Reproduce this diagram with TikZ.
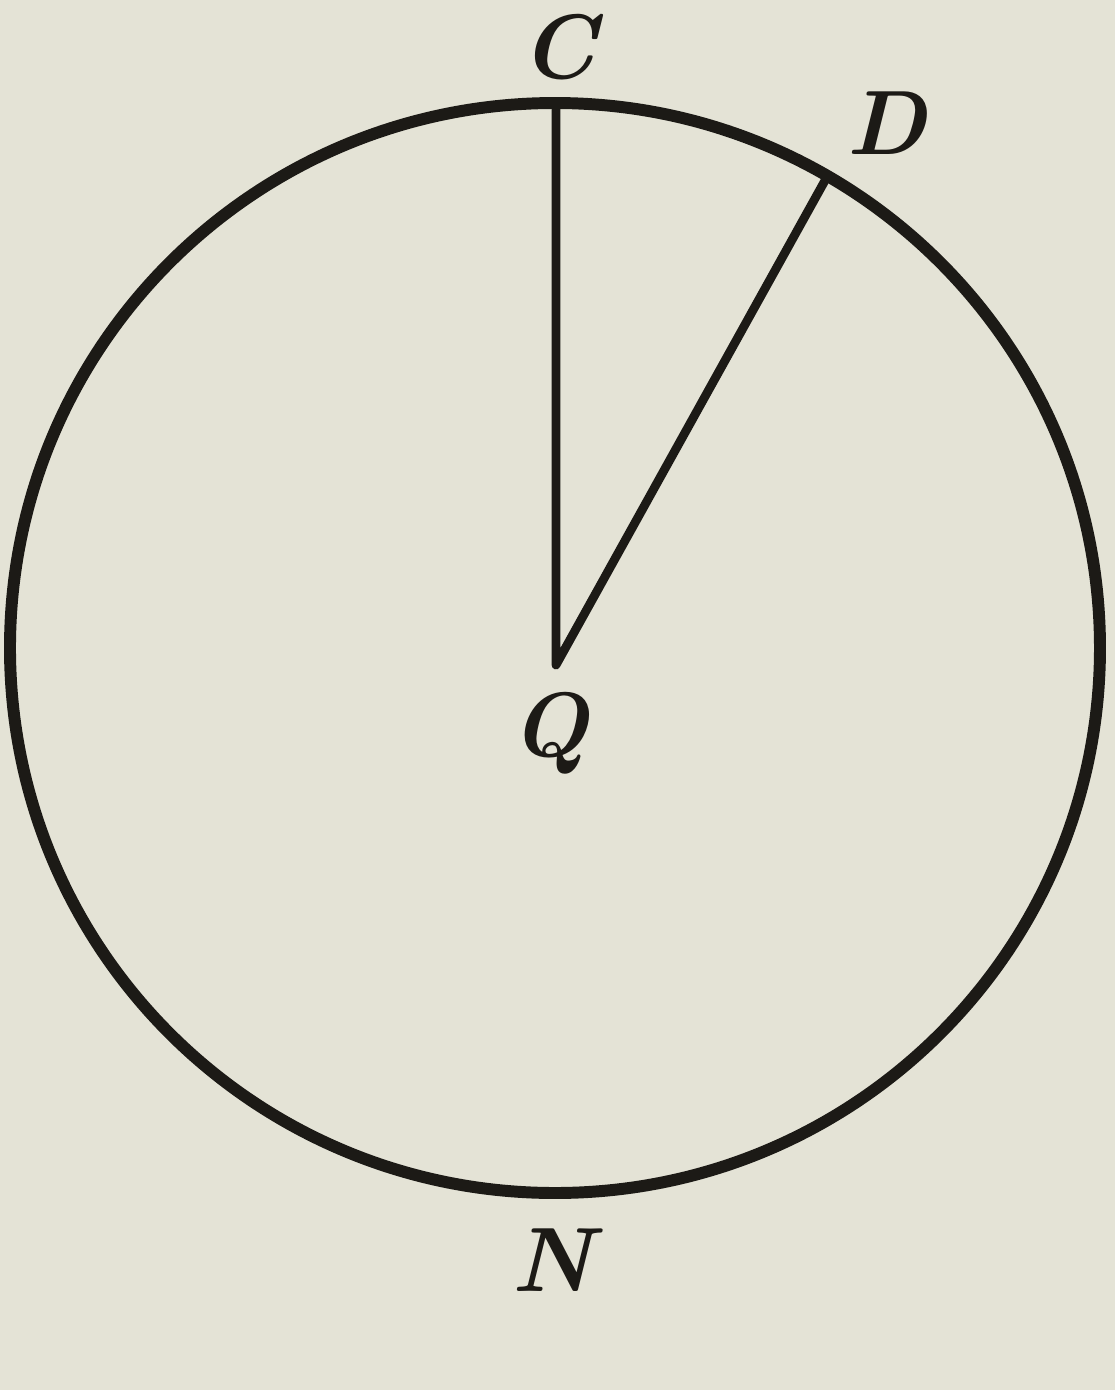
\documentclass[tikz,border=0pt]{standalone}
\usepackage{tikz}
\usepackage{xcolor}
\definecolor{paper}{RGB}{228,227,214}
\definecolor{ink}{RGB}{28,26,22}
\tikzset{label font/.style={font=\fontsize{26}{31}\selectfont\bfseries\itshape, text=ink}}

\begin{document}
\begin{tikzpicture}

  \def\r{5.45}
  \def\thetad{60}

  \fill[paper] (-5.55,-7.42) rectangle (5.60,6.48);
  \useasboundingbox (-5.55,-7.42) rectangle (5.60,6.48);

  \coordinate (O) at (0,0);
  \coordinate (Q) at (0.01,-0.17);
  \coordinate (C) at (0.01,\r);
  \coordinate (D) at ({\r*cos(\thetad)},{\r*sin(\thetad)});

  \draw[line width=3.4pt, ink] (O) circle (\r);

  \draw[line width=2.5pt, ink, line join=round] (C) -- (Q) -- (D);

  \node[label font] (lC) at (0.03,6.01) {C};
  \node[label font] (lD) at (3.32,5.25) {D};
  \node[label font] (lQ) at (-0.05,-0.85) {Q};
  \node[label font] (lN) at (-0.03,-6.12) {N};

\end{tikzpicture}
\end{document}
